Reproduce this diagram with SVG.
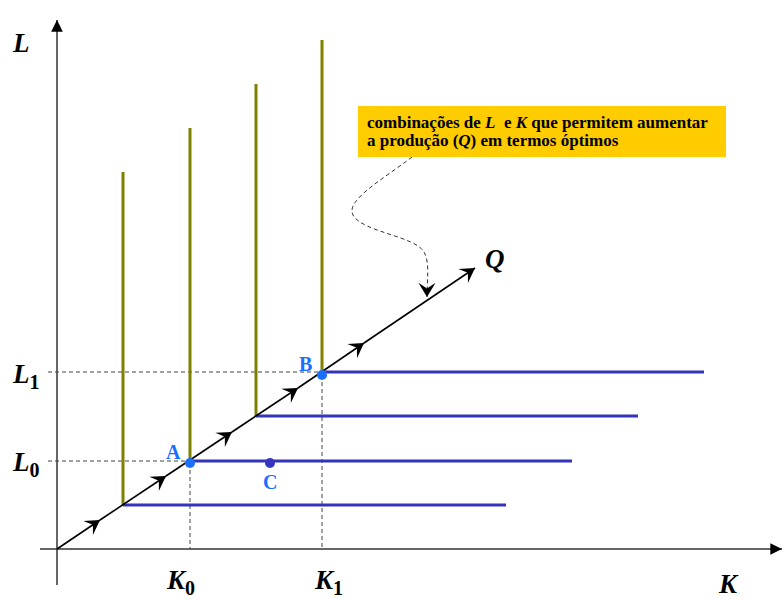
<svg xmlns="http://www.w3.org/2000/svg" width="784" height="599" viewBox="0 0 784 599">
<style>
.ax{stroke:#333;stroke-width:1.5;fill:none}
.ol{stroke:#808000;stroke-width:3;fill:none}
.bl{stroke:#3333bb;stroke-width:3;fill:none}
.ds{stroke:#444;stroke-width:1;stroke-dasharray:4 3;fill:none}
.lb{font-family:"Liberation Serif",serif;font-weight:bold;font-style:italic;font-size:27px;fill:#000}
.sb{font-style:normal;font-size:20px}
.pt{font-family:"Liberation Serif",serif;font-weight:bold;font-size:20px;fill:#1a6fff}
.bx{font-family:"Liberation Serif",serif;font-weight:bold;font-size:17px;fill:#000}
</style>
<defs>
<marker id="ah" markerWidth="20" markerHeight="20" viewBox="-10 -7 12 14" refX="0" refY="0" orient="auto" markerUnits="userSpaceOnUse">
<path d="M0,0 L-10,-6 L-6,0 L-10,6 Z" fill="#000"/>
</marker>
<marker id="ax" markerWidth="14" markerHeight="14" viewBox="-10 -6 12 12" refX="0" refY="0" orient="auto" markerUnits="userSpaceOnUse">
<path d="M0,0 L-10,-5 L-10,5 Z" fill="#000"/>
</marker>
</defs>
<rect width="784" height="599" fill="#fff"/>
<g id="axes">
<line class="ax" x1="57" y1="585" x2="57" y2="20" marker-end="url(#ax)"/>
<line class="ax" x1="40" y1="549" x2="782" y2="549" marker-end="url(#ax)"/>
</g>
<g id="connectors">
<line class="ds" x1="48" y1="372" x2="322" y2="372"/>
<line class="ds" x1="48" y1="461" x2="190" y2="461"/>
<line class="ds" x1="190" y1="463" x2="190" y2="549"/>
<line class="ds" x1="322" y1="375" x2="322" y2="549"/>
<line class="ol" x1="123" y1="172" x2="123" y2="505"/>
<line class="ol" x1="190" y1="128" x2="190" y2="461"/>
<line class="ol" x1="256" y1="84" x2="256" y2="417"/>
<line class="ol" x1="322" y1="40" x2="322" y2="373"/>
<line class="bl" x1="123" y1="505" x2="506" y2="505"/>
<line class="bl" x1="190" y1="461" x2="572" y2="461"/>
<line class="bl" x1="256" y1="416" x2="638" y2="416"/>
<line class="bl" x1="322" y1="372" x2="704" y2="372"/>
<g stroke="#000" stroke-width="1.6" fill="none">
<path d="M57,549 L100,520" marker-end="url(#ah)"/>
<path d="M100,520 L166,476" marker-end="url(#ah)"/>
<path d="M166,476 L232,432" marker-end="url(#ah)"/>
<path d="M232,432 L298,388" marker-end="url(#ah)"/>
<path d="M298,388 L364,343" marker-end="url(#ah)"/>
<path d="M364,343 L475,268" marker-end="url(#ah)"/>
</g>
<path d="M412,157 C385,178 345,200 353,215 C362,232 415,236 424,252 C430,262 427,280 427,297" stroke="#333" stroke-width="1" stroke-dasharray="4 3" fill="none" marker-end="url(#ah)"/>
</g>
<g id="pointA"><circle cx="190" cy="463" r="5" fill="#1a6fff"/><text class="pt" x="166" y="459">A</text></g>
<g id="pointB"><circle cx="322" cy="375" r="5" fill="#1a6fff"/><text class="pt" x="299" y="371">B</text></g>
<g id="pointC"><circle cx="270" cy="463" r="5" fill="#3535c0"/><text class="pt" x="263" y="489">C</text></g>
<g id="note">
<rect x="358" y="106" width="368" height="51" fill="#ffcc00"/>
<text class="bx" x="367" y="128" xml:space="preserve">combinações de <tspan font-style="italic">L</tspan>  e <tspan font-style="italic">K</tspan> que permitem aumentar</text>
<text class="bx" x="367" y="146">a produção (<tspan font-style="italic">Q</tspan>) em termos óptimos</text>
</g>
<g id="labels">
<text class="lb" x="13" y="52">L</text>
<text class="lb" x="13" y="383">L<tspan class="sb" dy="6">1</tspan></text>
<text class="lb" x="13" y="471">L<tspan class="sb" dy="6">0</tspan></text>
<text class="lb" x="167" y="589">K<tspan class="sb" dy="6">0</tspan></text>
<text class="lb" x="315" y="589">K<tspan class="sb" dy="6">1</tspan></text>
<text class="lb" x="719" y="593">K</text>
<text class="lb" x="485" y="268">Q</text>
</g>
</svg>
